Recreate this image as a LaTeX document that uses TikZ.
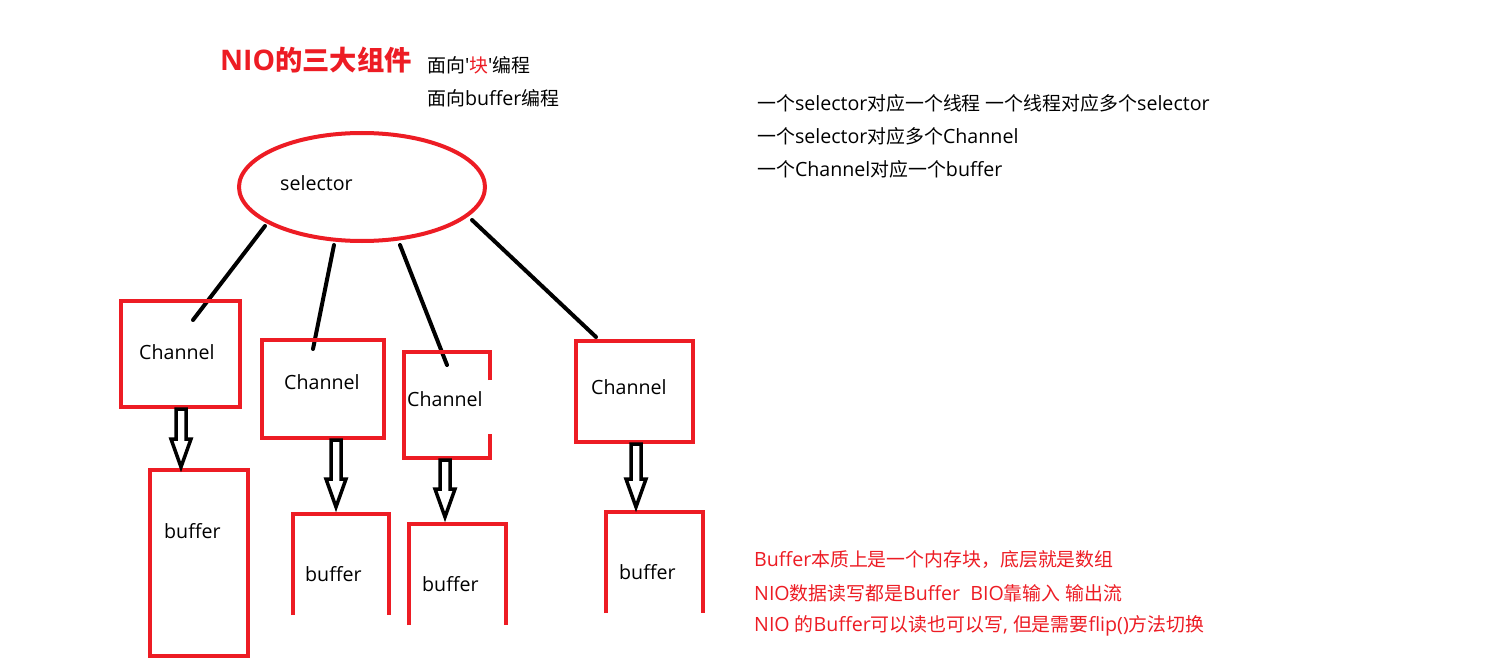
\documentclass[tikz,border=0pt]{standalone}
\usepackage{fontspec}
\setmainfont{Open Sans}[Scale=1.09,Ligatures=TeXOff]
\newfontfamily\cjkfont{Noto Sans CJK SC}[Scale=1.05]
\newcommand\ZH[1]{{\cjkfont #1}}
\definecolor{pred}{RGB}{237,28,36}
\tikzset{
  redbox/.style={draw=pred,line width=4pt},
  conn/.style={draw=black,line width=4pt,line cap=round},
  harrow/.style={draw=black,line width=3.5pt,line join=miter},
  lbl/.style={inner sep=0pt,anchor=west,font=\fontsize{18}{21}\selectfont},
  rtxt/.style={inner sep=0pt,anchor=west,font=\fontsize{18}{21}\selectfont},
}
\begin{document}
\begin{tikzpicture}[x=1pt,y=-1pt]
\useasboundingbox (0,0) rectangle (1502,658);
\fill[white] (0,0) rectangle (1502,658);
% title
\node[inner sep=0pt,anchor=west,text=pred,font=\fontsize{26}{30}\selectfont\bfseries] (title) at (220,60) {NIO\ZH{的三大组件}};
\node[rtxt] (t1) at (427,65) {\ZH{面向}'\textcolor{pred}{\ZH{块}}'\ZH{编程}};
\node[rtxt] (t2) at (427,98) {\ZH{面向}buffer\ZH{编程}};
% right notes
\node[rtxt] (n1) at (757,103) {\ZH{一个}selector\ZH{对应一个线程} \ZH{一个线程对应多个}selector};
\node[rtxt] (n2) at (757,136) {\ZH{一个}selector\ZH{对应多个}Channel};
\node[rtxt] (n3) at (757,169) {\ZH{一个}Channel\ZH{对应一个}buffer};
\node[rtxt,text=pred] (r1) at (754,560) {Buffer\ZH{本质上是一个内存块，底层就是数组}};
\node[rtxt,text=pred] (r2) at (754,593) {NIO\ZH{数据读写都是}Buffer\ \ BIO\ZH{靠输入} \ZH{输出流}};
\node[rtxt,text=pred] (r3) at (754,626) {NIO \ZH{的}Buffer\ZH{可以读也可以写}, \ZH{但是需要}flip()\ZH{方法切换}};
% selector
\draw[redbox] (362,187) ellipse [x radius=123, y radius=54];
\node[lbl] (sel) at (280,183) {selector};
% connectors
\coordinate (s1) at (265,226); \coordinate (e1) at (193,320);
\coordinate (s2) at (334,245); \coordinate (e2) at (313,349);
\coordinate (s3) at (400,245); \coordinate (e3) at (447,365);
\coordinate (s4) at (472,220); \coordinate (e4) at (596,337);
\draw[conn] (s1) -- (e1);
\draw[conn] (s2) -- (e2);
\draw[conn] (s3) -- (e3);
\draw[conn] (s4) -- (e4);
% channel boxes
\draw[redbox] (121,301) rectangle (240,407);
\node[lbl] (c1) at (139,352) {Channel};
\draw[redbox] (262,340) rectangle (384,438);
\node[lbl] (c2) at (284,382) {Channel};
\draw[redbox] (490,380) -- (490,352) -- (404,352) -- (404,458) -- (490,458) -- (490,434);
\node[lbl] (c3) at (407,399) {Channel};
\draw[redbox] (576,341) rectangle (693,442);
\node[lbl] (c4) at (591,387) {Channel};
% buffers
\draw[redbox] (150,470) rectangle (248,656);
\node[lbl] (b1) at (164,531) {buffer};
\draw[redbox] (293,615) -- (293,514) -- (389,514) -- (389,615);
\node[lbl] (b2) at (305,574) {buffer};
\draw[redbox] (409,625) -- (409,524) -- (506,524) -- (506,625);
\node[lbl] (b3) at (422,584) {buffer};
\draw[redbox] (606,613) -- (606,512) -- (703,512) -- (703,613);
\node[lbl] (b4) at (619,572) {buffer};
% hollow arrows
\foreach \cx/\ya/\yb in {181/409/467, 336/440/507, 445/460/517, 636/444/507}{
  \draw[harrow] (\cx-5,\ya) -- (\cx-5,\yb-28) -- (\cx-10,\yb-28) -- (\cx,\yb) -- (\cx+10,\yb-28) -- (\cx+5,\yb-28) -- (\cx+5,\ya) -- cycle;
}
\end{tikzpicture}
\end{document}
